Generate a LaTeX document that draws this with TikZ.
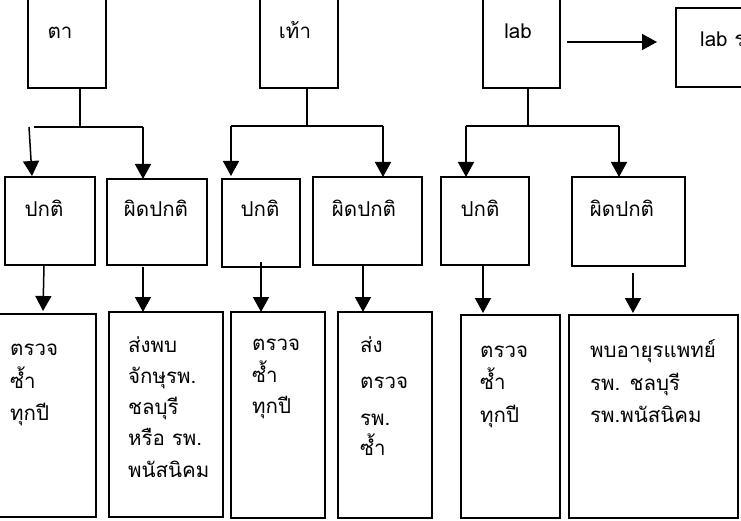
\documentclass[tikz,border=0pt]{standalone}
\usepackage{fontspec}
\setmainfont{Loma}[Script=Thai]
\usetikzlibrary{arrows.meta}
\newcommand{\mkbox}[5]{%
  \pgfmathsetmacro{\bxcx}{(#2+#4)/2}\pgfmathsetmacro{\bxcy}{(#3+#5)/2}%
  \pgfmathsetmacro{\bxw}{#4-#2}\pgfmathsetmacro{\bxh}{#5-#3}%
  \node[box,minimum width=\bxw pt,minimum height=\bxh pt] (#1) at (\bxcx,\bxcy) {};}
\begin{document}
\begin{tikzpicture}[x=1pt,y=-1pt,
  box/.style={draw,line width=1.5pt,inner sep=0pt,outer sep=0pt,rectangle},
  ln/.style={line width=1.5pt},
  arr/.style={line width=1.5pt,-{Triangle[length=15pt,width=16pt]}},
  txt/.style={inner sep=0pt,anchor=base west,font=\fontsize{20.5}{24}\selectfont},
  ctxt/.style={inner sep=0pt,anchor=base,font=\fontsize{20.5}{24}\selectfont}]
\fill[white] (0,0) rectangle (741,521);
\useasboundingbox (0,0) rectangle (741,521);
% top row
\mkbox{ta}{28}{-3}{106}{88}
\mkbox{tao}{260}{-3}{338}{88}
\mkbox{lab}{483}{-3}{560}{88}
\mkbox{labr}{676}{8}{760}{87}
\node[ctxt] (tta) at (60,39) {ตา};
\node[ctxt] (ttao) at (295,39) {เท้า};
\node[ctxt] (tlab) at (518,39) {lab};
\node[txt] (tlabr) at (700,47) {lab ร};
% middle row
\mkbox{n1}{5}{177}{95}{265}
\mkbox{a1}{107}{179}{207}{265}
\mkbox{n2}{222}{179}{300}{267}
\mkbox{a2}{313}{177}{422}{265}
\mkbox{n3}{441}{177}{529}{265}
\mkbox{a3}{572}{177}{685}{266}
\node[ctxt] (tn1) at (44,217) {ปกติ};
\node[ctxt] (ta1) at (156,217) {ผิดปกติ};
\node[ctxt] (tn2) at (260,217) {ปกติ};
\node[ctxt] (ta2) at (364,217) {ผิดปกติ};
\node[ctxt] (tn3) at (480,217) {ปกติ};
\node[ctxt] (ta3) at (622,217) {ผิดปกติ};
% bottom row
\mkbox{b1}{-5}{314}{96}{517}
\mkbox{b2}{109}{312}{223}{517}
\mkbox{b3}{231}{312}{325}{518}
\mkbox{b4}{338}{312}{432}{518}
\mkbox{b5}{461}{315}{560}{518}
\mkbox{b6}{569}{315}{738}{518}
\node[txt] (t11) at (10,355) {ตรวจ};
\node[txt] (t12) at (10,388) {ซ้ำ};
\node[txt] (t13) at (10,420) {ทุกปี};
\node[txt] (t21) at (128,352) {ส่งพบ};
\node[txt] (t22) at (128,383) {จักษุรพ.};
\node[txt] (t23) at (128,414) {ชลบุรี};
\node[txt] (t24) at (128,445) {หรือ รพ.};
\node[txt] (t25) at (128,477) {พนัสนิคม};
\node[txt] (t31) at (252,350) {ตรวจ};
\node[txt] (t32) at (252,382) {ซ้ำ};
\node[txt] (t33) at (252,413) {ทุกปี};
\node[txt] (t41) at (360,352) {ส่ง};
\node[txt] (t42) at (360,388) {ตรวจ};
\node[txt] (t43) at (360,425) {รพ.};
\node[txt] (t44) at (360,455) {ซ้ำ};
\node[txt] (t51) at (480,357) {ตรวจ};
\node[txt] (t52) at (480,389) {ซ้ำ};
\node[txt] (t53) at (480,422) {ทุกปี};
\node[txt] (t61) at (590,357) {พบอายุรแพทย์};
\node[txt] (t62) at (590,390) {รพ. ชลบุรี};
\node[txt] (t63) at (590,422) {รพ.พนัสนิคม};
% connectors group 1
\coordinate (j1) at (80,127);
\coordinate (h1a) at (34,127);
\coordinate (h1b) at (143,127);
\coordinate (s1) at (29,127);
\coordinate (s1e) at (32,176);
\draw[ln] (j1 |- ta.south) -- (j1);
\draw[ln] (h1a) -- (h1b);
\draw[arr] (s1) -- (s1e);
\draw[arr] (h1b) -- (h1b |- a1.north);
% group 2
\coordinate (j2) at (307,126);
\coordinate (h2a) at (231,126);
\coordinate (h2b) at (383,126);
\draw[ln] (j2 |- tao.south) -- (j2);
\draw[ln] (h2a) -- (h2b);
\draw[arr] (h2a) -- ([yshift=3pt]h2a |- n2.north);
\draw[arr] (h2b) -- (h2b |- a2.north);
% group 3
\coordinate (j3) at (528,126);
\coordinate (h3a) at (466,126);
\coordinate (h3b) at (619,126);
\draw[ln] (j3 |- lab.south) -- (j3);
\draw[ln] (h3a) -- (h3b);
\draw[arr] (h3a) -- (h3a |- n3.north);
\draw[arr] (h3b) -- (h3b |- a3.north);
% lab arrow
\coordinate (la1) at (567,42);
\coordinate (la2) at (657,42);
\draw[arr] (la1) -- (la2);
% middle to bottom
\coordinate (d1) at (44,265);
\coordinate (e1) at (43,311);
\draw[arr] (d1) -- (e1);
\coordinate (d2) at (143,267);
\draw[arr] (d2) -- (d2 |- b2.north);
\coordinate (d3) at (261,262);
\draw[arr] (d3) -- (d3 |- b3.north);
\coordinate (d4) at (363,265);
\draw[arr] (d4) -- (d4 |- b4.north);
\coordinate (d5) at (483,266);
\draw[arr] (d5) -- ([yshift=2pt]d5 |- b5.north);
\coordinate (d6) at (633,273);
\draw[arr] (d6) -- ([yshift=2pt]d6 |- b6.north);
\end{tikzpicture}
\end{document}
